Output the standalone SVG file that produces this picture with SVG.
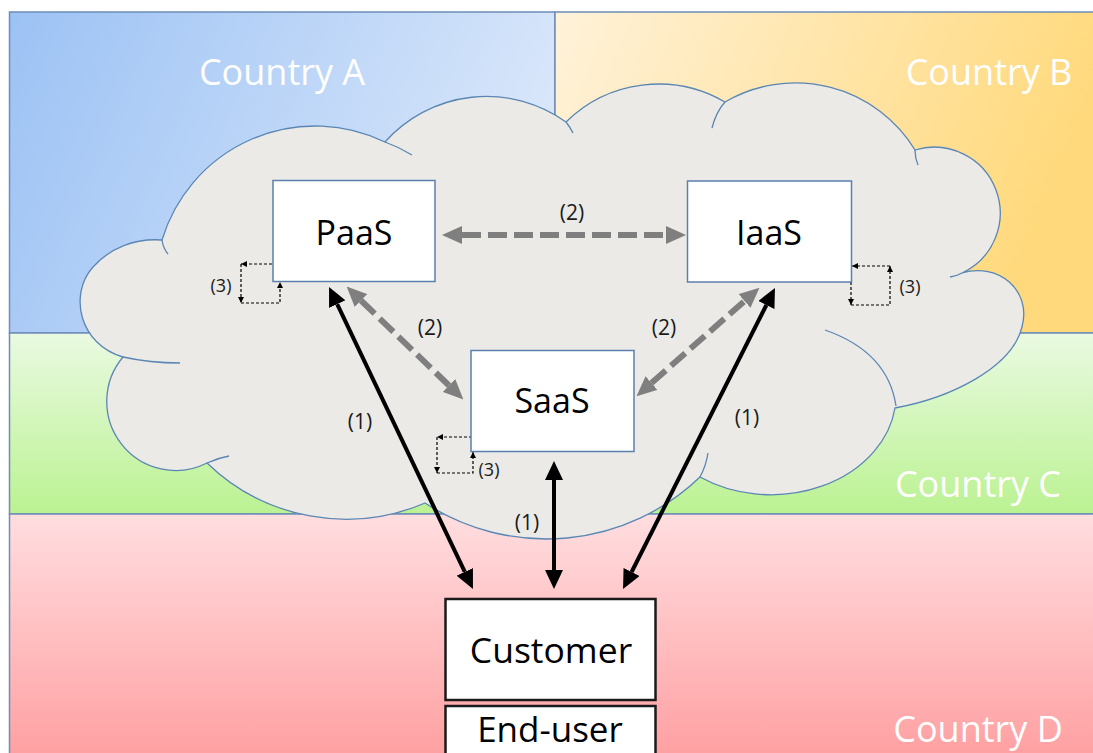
<svg xmlns="http://www.w3.org/2000/svg" width="1093" height="753" viewBox="0 0 1093 753">
<defs>
<linearGradient id="gA" x1="0" y1="0" x2="1" y2="0.25"><stop offset="0" stop-color="#9CC2F4"/><stop offset="1" stop-color="#D8E6FA"/></linearGradient>
<linearGradient id="gB" x1="0" y1="0" x2="1" y2="0.25"><stop offset="0" stop-color="#FFF2DA"/><stop offset="1" stop-color="#FFD97C"/></linearGradient>
<linearGradient id="gC" x1="0" y1="0" x2="0" y2="1"><stop offset="0" stop-color="#EAFAE2"/><stop offset="1" stop-color="#BBF292"/></linearGradient>
<linearGradient id="gD" x1="0" y1="0" x2="0" y2="1"><stop offset="0" stop-color="#FFDEE0"/><stop offset="1" stop-color="#FFA0A2"/></linearGradient>
<marker id="hg" markerUnits="userSpaceOnUse" markerWidth="20" markerHeight="18" viewBox="0 0 20 18" refX="0" refY="9" orient="auto-start-reverse"><path d="M0,0 L20,9 L0,18 z" fill="#7F7F7F"/></marker>
<marker id="hb" markerUnits="userSpaceOnUse" markerWidth="19" markerHeight="18" viewBox="0 0 19 18" refX="0" refY="9" orient="auto-start-reverse"><path d="M0,0 L19,9 L0,18 z" fill="#000"/></marker>
<marker id="hs" markerUnits="userSpaceOnUse" markerWidth="6" markerHeight="6" viewBox="0 0 6 6" refX="6" refY="3" orient="auto"><path d="M0,0 L6,3 L0,6 z" fill="#000"/></marker>
<style>
.region{stroke:#6E8DB8;stroke-width:1.5}
.clabel{font-family:"Open Sans","Liberation Sans",sans-serif;font-size:36px;fill:#FFFFFF;text-anchor:middle}
.box{fill:#FFFFFF;stroke:#5B7FAE;stroke-width:1.5}
.cbox{fill:#FFFFFF;stroke:#1A1A1A;stroke-width:2.5}
.ntext{font-family:"Open Sans","Liberation Sans",sans-serif;font-size:34px;fill:#000;text-anchor:middle}
.lbl{font-family:"Open Sans","Liberation Sans",sans-serif;font-size:21px;fill:#1A1A1A;text-anchor:middle}
.lbl3{font-family:"Open Sans","Liberation Sans",sans-serif;font-size:18px;fill:#1A1A1A;text-anchor:middle}
.cloud{fill:#EBEAE6;stroke:#5A86B4;stroke-width:1.3}
.tick{fill:none;stroke:#5A86B4;stroke-width:1.3}
.c2{fill:none;stroke:#7F7F7F;stroke-width:6;stroke-dasharray:19 7;marker-start:url(#hg);marker-end:url(#hg)}
.c1{fill:none;stroke:#000;stroke-width:4;marker-start:url(#hb);marker-end:url(#hb)}
.c3{fill:none;stroke:#000;stroke-width:1.2;stroke-dasharray:3 2;marker-end:url(#hs)}
</style>
</defs>
<rect width="1093" height="753" fill="#FFFFFF"/>
<g id="countries">
<rect class="region" x="9.5" y="12" width="545.5" height="321" fill="url(#gA)"/>
<rect class="region" x="555" y="12" width="540" height="321" fill="url(#gB)"/>
<rect class="region" x="9.5" y="333" width="1085" height="181" fill="url(#gC)"/>
<rect class="region" x="9.5" y="514" width="1085" height="242" fill="url(#gD)"/>
<text class="clabel" x="282" y="85">Country A</text>
<text class="clabel" x="989" y="85">Country B</text>
<text class="clabel" x="978" y="497">Country C</text>
<text class="clabel" x="978" y="742">Country D</text>
</g>
<g id="cloud">
<path class="cloud" d="M123,357 C80,345 68,295 93,267 C110,248 135,238 162,240 A160,160 0 0 1 385,142 A136,136 0 0 1 566,122 A132,132 0 0 1 725,102 A140,140 0 0 1 915,150 A66,66 0 0 1 962,273 C998,262 1032,290 1022,327 C1012,368 950,398 895,408 A125,100 0 0 1 700,477 A222,222 0 0 1 425,503 A200,200 0 0 1 207,463 A69,69 0 0 1 123,357 Z"/>
<path class="tick" d="M162,240 Q163,248 168,254 M385,142 Q399,147 412,155 M566,122 Q570,127 573,133 M725,102 Q716,112 712,128 M915,150 Q915,158 918,165 M962,273 Q957,276 950,277 M825,330 Q888,352 896,406 M700,477 Q706,466 708,453 M207,463 Q218,458 229,456 M123,357 Q150,363 180,363"/>
</g>
<g id="connectors">
<path class="c2" d="M462,235 H666"/>
<path class="c2" d="M361,300.5 L449,385.5"/>
<path class="c2" d="M651.5,383 L744.5,301"/>
<path class="c1" d="M337.2,304.1 L464.8,571.9"/>
<path class="c1" d="M554,480 V570"/>
<path class="c1" d="M766.4,305 L631.6,572"/>
<path class="c3" d="M272,264 H241"/>
<path class="c3" d="M241,264 V303"/>
<path class="c3" d="M241,303 H280 V282"/>
<path class="c3" d="M851,282 V305"/>
<path class="c3" d="M851,305 H890 V266"/>
<path class="c3" d="M890,266 H852"/>
<path class="c3" d="M472,437 H437"/>
<path class="c3" d="M437,437 V473"/>
<path class="c3" d="M437,473 H473 V452"/>
<text class="lbl" x="572" y="220">(2)</text>
<text class="lbl" x="430" y="335">(2)</text>
<text class="lbl" x="664" y="335">(2)</text>
<text class="lbl" x="360" y="429">(1)</text>
<text class="lbl" x="527" y="530">(1)</text>
<text class="lbl" x="747" y="425">(1)</text>
<text class="lbl3" x="221" y="292">(3)</text>
<text class="lbl3" x="910" y="293">(3)</text>
<text class="lbl3" x="489" y="476">(3)</text>
</g>
<g id="paas"><rect class="box" x="273" y="180.5" width="162" height="101"/><text class="ntext" x="354" y="245">PaaS</text></g>
<g id="iaas"><rect class="box" x="687.5" y="181" width="164" height="101"/><text class="ntext" x="769" y="245">IaaS</text></g>
<g id="saas"><rect class="box" x="471" y="350.5" width="163" height="101"/><text class="ntext" x="552" y="413">SaaS</text></g>
<g id="customer"><rect class="cbox" x="445.5" y="599" width="210" height="101"/><text class="ntext" x="551" y="663" style="font-size:35.5px">Customer</text></g>
<g id="enduser"><rect class="cbox" x="445.5" y="706" width="210" height="60"/><text class="ntext" x="550" y="742" style="font-size:35px">End-user</text></g>
</svg>
